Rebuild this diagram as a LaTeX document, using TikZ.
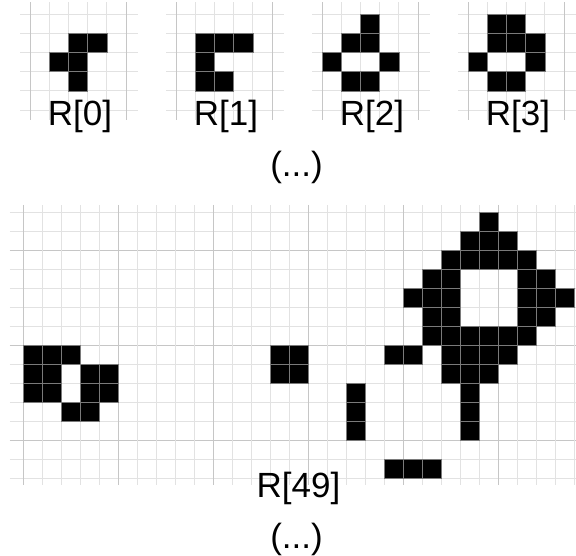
\documentclass[tikz,border=0pt]{standalone}
\usepackage{fontspec}
\setmainfont{Liberation Sans}
\usepackage{xcolor}
\definecolor{minorgray}{HTML}{E2E2E2}
\definecolor{majorgray}{HTML}{C6C6C6}
\definecolor{seamgray}{HTML}{7A7A7A}

\tikzset{
    minor/.style={draw=minorgray, line width=1pt},
    major/.style={draw=majorgray, line width=1pt},
    live/.style={fill=black, draw=seamgray, line width=0.6pt},
    gen/.style={anchor=base, inner sep=0, font=\fontsize{35}{40}\selectfont}
}

% small 5x5 board, left edge at #1
\newcommand{\smallboard}[1]{%
    \begin{scope}[shift={(#1,14)}, x=19.2pt, y=-19.2pt]
        \foreach \k in {0,...,5} {
            \draw[minor] (-0.52,\k) -- (5.62,\k);
            \draw[minor] (\k,-0.62) -- (\k,5.52);
        }
        \draw[major] (0,-0.62) -- (0,5.52);
        \draw[major] (5,-0.62) -- (5,5.52);
    \end{scope}}

\begin{document}
\begin{tikzpicture}[x=1pt, y=-1pt]
    \useasboundingbox (0,0) rectangle (576,555);

    \smallboard{30}
    \smallboard{176}
    \smallboard{322}
    \smallboard{468}

    \begin{scope}[shift={(30,14)}, x=19.2pt, y=-19.2pt]
        \foreach \c/\r in {2/1,3/1,1/2,2/2,2/3}
            \filldraw[live] (\c,\r) rectangle ++(1,1);
    \end{scope}
    \begin{scope}[shift={(176,14)}, x=19.2pt, y=-19.2pt]
        \foreach \c/\r in {1/1,2/1,3/1,1/2,1/3,2/3}
            \filldraw[live] (\c,\r) rectangle ++(1,1);
    \end{scope}
    \begin{scope}[shift={(322,14)}, x=19.2pt, y=-19.2pt]
        \foreach \c/\r in {2/0,1/1,2/1,0/2,3/2,1/3,2/3}
            \filldraw[live] (\c,\r) rectangle ++(1,1);
    \end{scope}
    \begin{scope}[shift={(468,14)}, x=19.2pt, y=-19.2pt]
        \foreach \c/\r in {1/0,2/0,1/1,2/1,3/1,0/2,3/2,1/3,2/3}
            \filldraw[live] (\c,\r) rectangle ++(1,1);
    \end{scope}

    \node[gen] (genzero) at (80,125) {R[0]};
    \node[gen] (genone) at (226,125) {R[1]};
    \node[gen] (gentwo) at (372,125) {R[2]};
    \node[gen] (genthree) at (518,125) {R[3]};
    \node[gen] (skiptop) at (296.5,176) {(...)};

    % large board
    \begin{scope}[shift={(23,212)}, x=19pt, y=-19pt]
        \foreach \k in {0,...,14} {
            \pgfmathtruncatemacro{\m}{mod(\k+3,5)}
            \ifnum\m=0 \draw[major] (-0.7,\k) -- (29.2,\k);
            \else \draw[minor] (-0.7,\k) -- (29.2,\k); \fi
        }
        \foreach \k in {0,...,29} {
            \pgfmathtruncatemacro{\m}{mod(\k,5)}
            \ifnum\m=0 \draw[major] (\k,-0.37) -- (\k,14.37);
            \else \draw[minor] (\k,-0.37) -- (\k,14.37); \fi
        }
        \foreach \c/\r in {24/0, 23/1,24/1,25/1, 22/2,23/2,24/2,25/2,26/2,
                21/3,22/3,26/3,27/3, 20/4,21/4,22/4,26/4,27/4,28/4,
                21/5,22/5,26/5,27/5, 21/6,22/6,23/6,24/6,25/6,26/6,
                0/7,1/7,2/7,13/7,14/7,19/7,20/7,22/7,23/7,24/7,25/7,
                0/8,1/8,3/8,4/8,13/8,14/8,22/8,23/8,24/8,
                0/9,1/9,3/9,4/9,17/9,23/9, 2/10,3/10,17/10,23/10,
                17/11,23/11, 19/13,20/13,21/13}
            \filldraw[live] (\c,\r) rectangle ++(1,1);
    \end{scope}

    \node[gen] (genfortynine) at (298.5,497) {R[49]};
    \node[gen] (skipbottom) at (296.5,548) {(...)};
\end{tikzpicture}
\end{document}
